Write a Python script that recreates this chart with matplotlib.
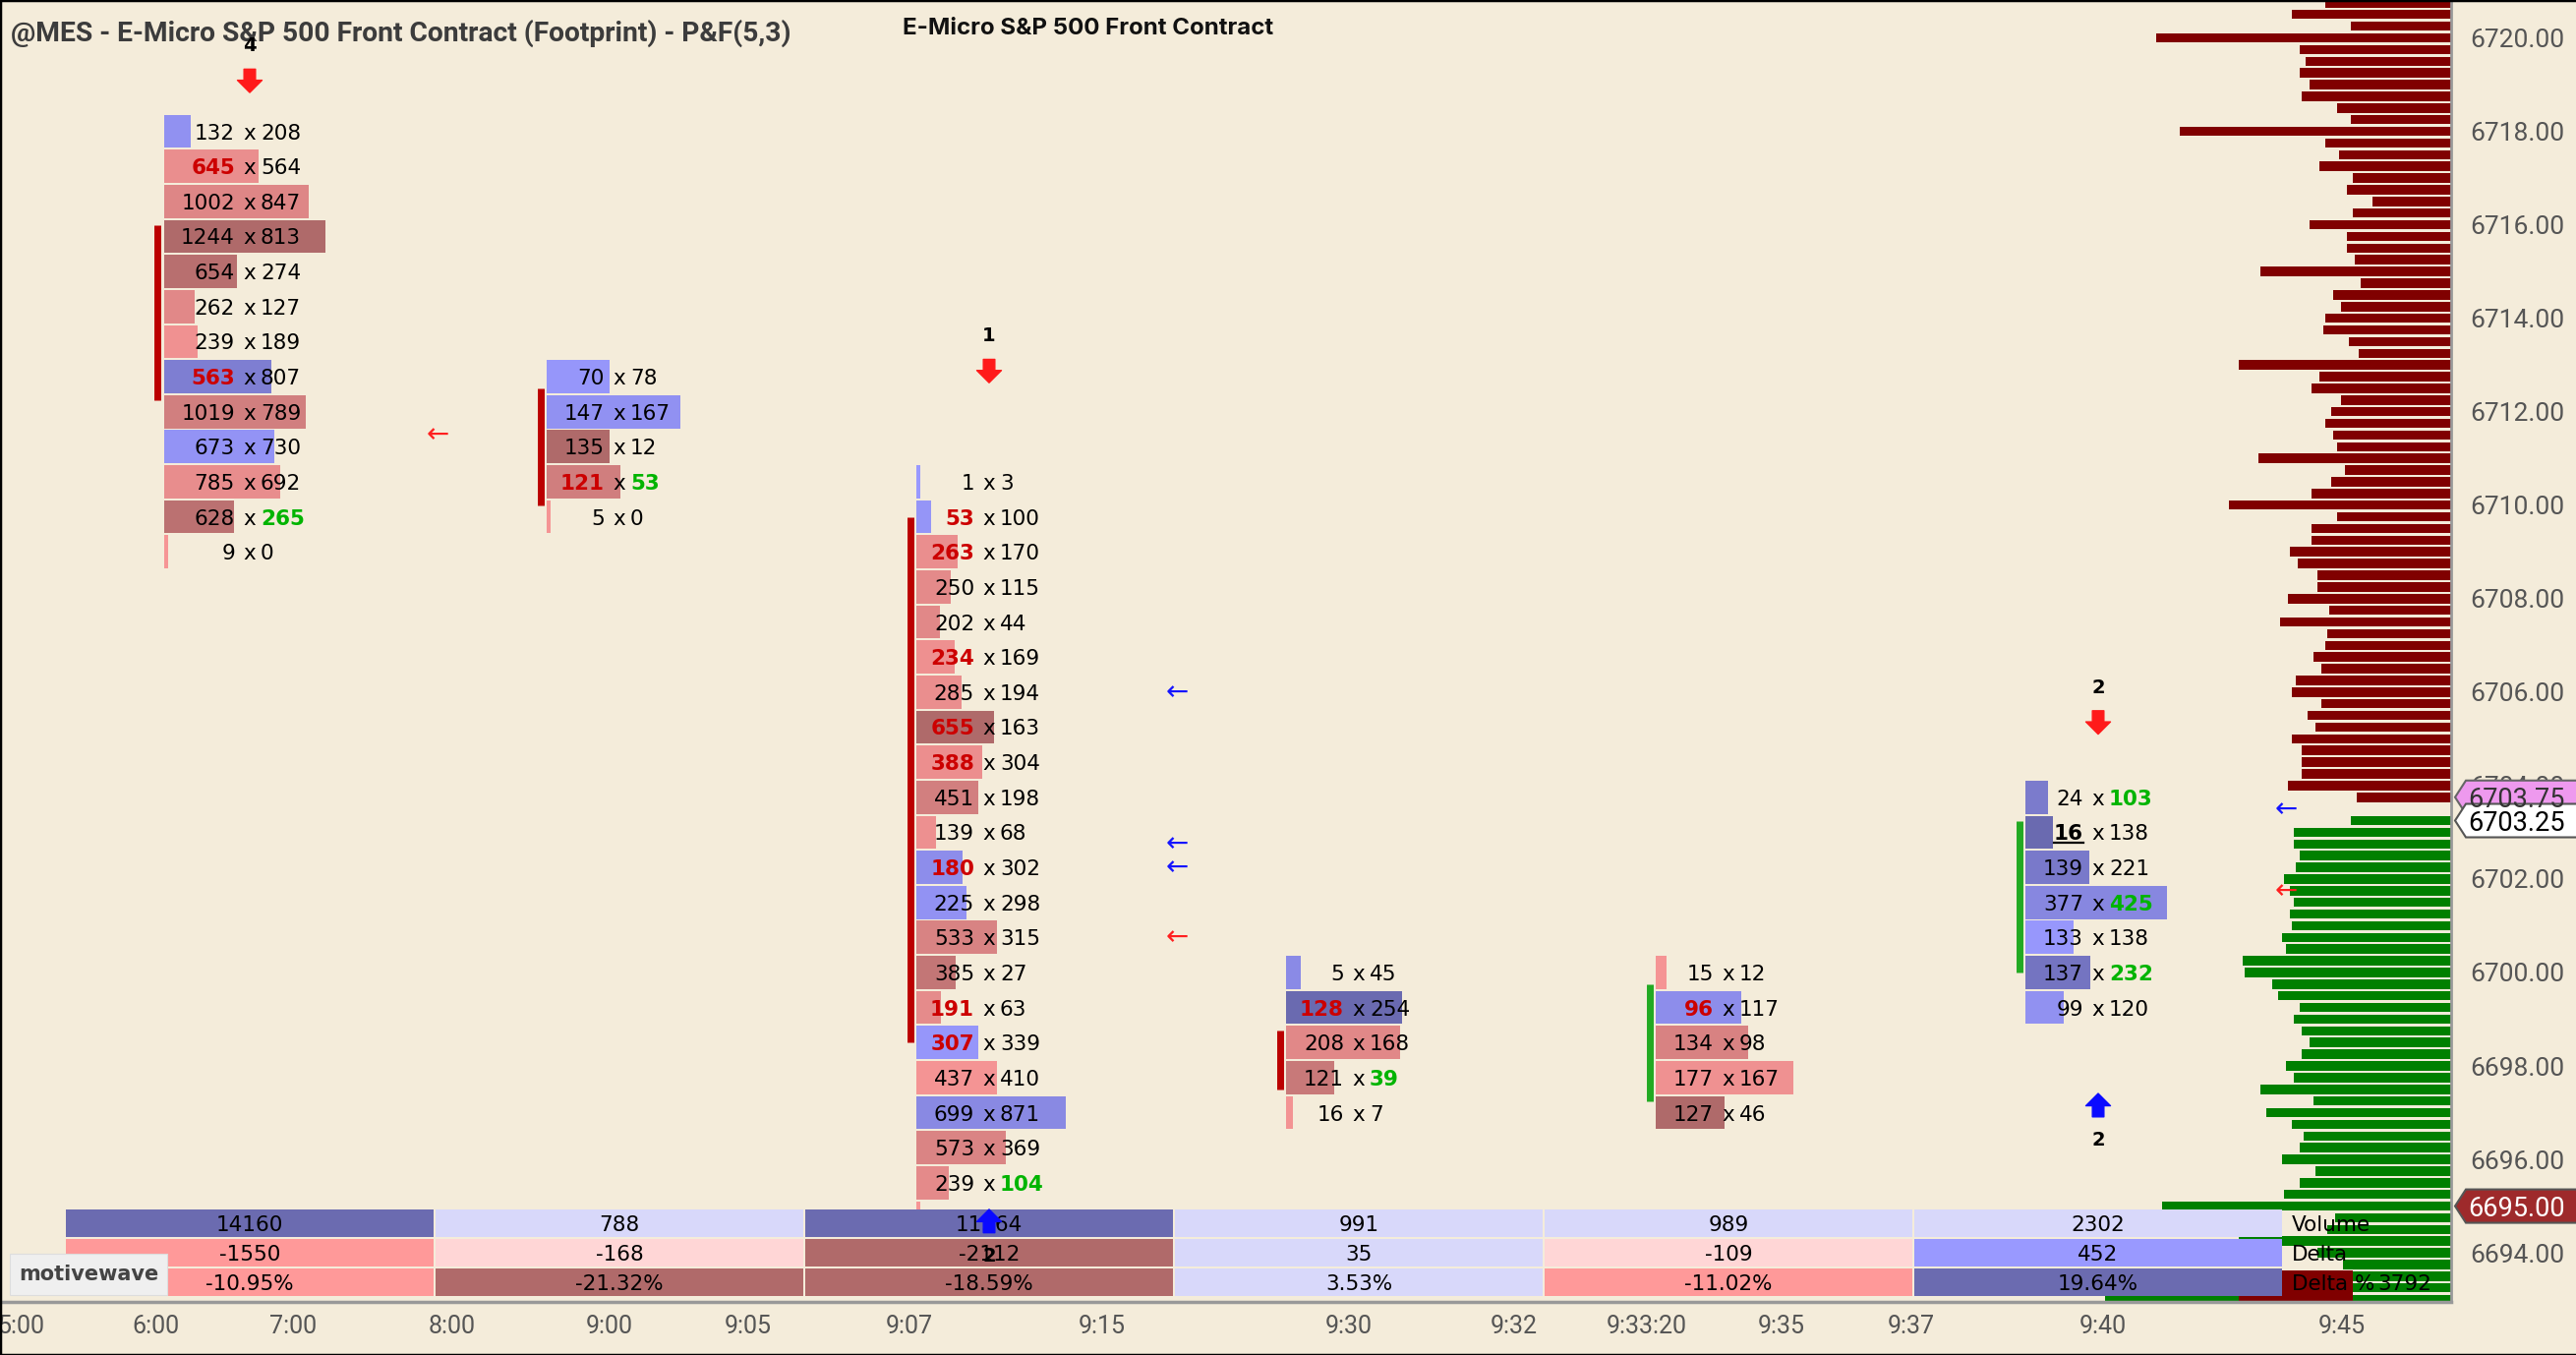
import numpy as np
import matplotlib
matplotlib.use("Agg")
import matplotlib.pyplot as plt
from matplotlib.patches import Rectangle, Polygon
from matplotlib.lines import Line2D
from matplotlib.transforms import blended_transform_factory
from matplotlib.colors import to_rgb

plt.rcParams['font.family'] = ['DejaVu Sans']

# ---------------- data ----------------
# P&F(5,3) footprint columns, rows listed from the top box down (box = 0.75)
col_top = [6718.0, 6712.75, 6710.5, 6700.0, 6700.0, 6703.75]
col_bid = [
    [132, 645, 1002, 1244, 654, 262, 239, 563, 1019, 673, 785, 628, 9],
    [70, 147, 135, 121, 5],
    [1, 53, 263, 250, 202, 234, 285, 655, 388, 451, 139, 180, 225, 533, 385,
     191, 307, 437, 699, 573, 239, 10],
    [5, 128, 208, 121, 16],
    [15, 96, 134, 177, 127],
    [24, 16, 139, 377, 133, 137, 99],
]
col_ask = [
    [208, 564, 847, 813, 274, 127, 189, 807, 789, 730, 692, 265, 0],
    [78, 167, 12, 53, 0],
    [3, 100, 170, 115, 44, 169, 194, 163, 304, 198, 68, 302, 298, 315, 27,
     63, 339, 410, 871, 369, 104, 0],
    [45, 254, 168, 39, 7],
    [12, 117, 98, 167, 46],
    [103, 138, 221, 425, 138, 232, 120],
]
box = 0.75

# value-area lines per column
va_top = [6716.0, 6712.5, 6709.75, 6698.75, 6699.75, 6703.25]
va_bot = [6712.25, 6710.0, 6698.5, 6697.5, 6697.25, 6700.0]
va_up = [False, False, False, False, True, True]

# summary table
tbl_volume = [14160, 788, 11364, 991, 989, 2302]
tbl_delta = [-1550, -168, -2112, 35, -109, 452]
tbl_pct = [-10.95, -21.32, -18.59, 3.53, -11.02, 19.64]

# session volume profile (above / below last trade)
prof_sell = [1380, 1280, 1620, 1020, 3000, 1540, 1480, 1540, 1440, 1520,
             1160, 1020, 2760, 1280, 1140, 1340, 1000, 1060, 800, 1000,
             1440, 1060, 1060, 980, 1940, 920, 1200, 1120, 1280, 1300,
             1040, 940, 2160, 1340, 1420, 1120, 1220, 1280, 1200, 1160,
             1960, 1080, 1220, 1420, 2260, 1160, 1420, 1420, 1640, 1560,
             1360, 1360, 1660, 1240, 1740, 1260, 1280, 1400, 1320, 1580,
             1620, 1320, 1460, 1380, 1620, 1520, 1520, 1520, 1660, 960]
prof_buy = [1020, 1600, 1600, 1540, 1580, 1700, 1640, 1600, 1640, 1620,
            1720, 1680, 2120, 2100, 1820, 1760, 1540, 1600, 1520, 1440,
            1520, 1680, 1600, 1940, 1400, 1880, 1620, 1500, 1540, 1720,
            1380, 1540, 1700, 2940, 1180, 1260, 2160, 1360, 1100, 1000,
            1000, 3520]
prof_sell_top = 6721.0
prof_buy_top = 6703.25
low_prices = [6693.5, 6693.25, 6693.0]
low_buy = [1000, 1000, 1000]
low_sell = [1160, 1160, 1160]

# signal markers
mk_col = [0, 2, 5, 5, 2]
mk_price = [6718.83, 6712.62, 6705.10, 6697.41, 6694.93]
mk_up = [False, False, False, True, True]
mk_label = ['4', '1', '2', '2', '2']

# small arrows
sa_col = [0, 2, 2, 2, 2, 5, 5]
sa_price = [6711.5, 6706.0, 6702.75, 6702.25, 6700.75, 6703.5, 6701.75]
sa_red = [True, False, False, False, True, False, True]

# time axis
time_pos = [-0.62, -0.255, 0.117, 0.548, 0.973, 1.348, 1.785, 2.306,
            2.973, 3.420, 3.779, 4.144, 4.495, 5.013, 5.660]
time_lbl = ['5:00', '6:00', '7:00', '8:00', '9:00', '9:05', '9:07', '9:15',
            '9:30', '9:32', '9:33:20', '9:35', '9:37', '9:40', '9:45']

# ---------------- layout / style ----------------
W_PX, H_PX = 2620, 1378
AX_W, AX_H = 2493, 1324
PX = 376.0          # pixels per column
C0 = 254.0          # pixel x of column 0 centre
Y_TOP, Y_BOT = 6720.81, 6692.95
bar_maxw_px = [164, 136, 152, 118, 140, 144]
IMB = 2.0

BG = '#F4ECDA'
RED_LO, RED_HI = '#F89696', '#AF6A6A'
BLUE_LO, BLUE_HI = '#9999FF', '#6A6AB0'
TXT_RED, TXT_GREEN = '#CC0000', '#00B400'
FS = 15.5


def shade(r, pos):
    lo, hi = (BLUE_LO, BLUE_HI) if pos else (RED_LO, RED_HI)
    r = min(max(r, 0.0), 1.0)
    return tuple(np.array(to_rgb(lo)) * (1 - r) + np.array(to_rgb(hi)) * r)


fig = plt.figure(figsize=(W_PX / 100, H_PX / 100), dpi=100, facecolor=BG)
ax = fig.add_axes([0, 1 - AX_H / H_PX, AX_W / W_PX, AX_H / H_PX])
ax.patch.set_visible(False)
ax.set_xlim(-C0 / PX, (AX_W - C0) / PX)
ax.set_ylim(Y_BOT, Y_TOP)
ppx = (Y_TOP - Y_BOT) / AX_H   # price per pixel

# volume profile (behind everything)
ax2 = ax.twiny()
ax2.set_zorder(-1)
ax2.set_xlim(AX_W * 10, 0)
ax2.set_xticks([])
for s in ax2.spines.values():
    s.set_visible(False)
sell_p = prof_sell_top - 0.25 * np.arange(len(prof_sell))
buy_p = prof_buy_top - 0.25 * np.arange(len(prof_buy))
ax2.barh(sell_p, prof_sell, height=0.2, color='#800000')
ax2.barh(buy_p, prof_buy, height=0.2, color='#008000')
ax2.barh(low_prices, low_sell, left=low_buy, height=0.25, color='#800000')

# footprint columns
for c in range(len(col_top)):
    bids = np.array(col_bid[c])
    asks = np.array(col_ask[c])
    prices = col_top[c] - box * np.arange(len(bids))
    tot = bids + asks
    delta = asks - bids
    dmax = np.abs(delta).max()
    nd = max(len(str(b)) for b in bids)
    left = c - (35 + 13 * nd) / PX
    widths = np.maximum(tot / tot.max() * bar_maxw_px[c] / PX, 4 / PX)
    colors = [shade(abs(d) / dmax, d >= 0) for d in delta]
    ax.barh(prices, widths, left=left, height=0.71, color=colors, zorder=2)
    for r in range(len(bids)):
        p = prices[r]
        bid_imb = r > 0 and bids[r] > 0 and bids[r] >= IMB * asks[r - 1]
        ask_imb = r < len(bids) - 1 and asks[r] > 0 and asks[r] >= IMB * bids[r + 1]
        bkw = dict(color=TXT_RED, fontweight='bold') if bid_imb else dict(color='black')
        akw = dict(color=TXT_GREEN, fontweight='bold') if ask_imb else dict(color='black')
        if c == 5 and r == 1:
            bkw = dict(color='black', fontweight='bold')
        ax.text(c - 15 / PX, p, str(bids[r]), ha='right', va='center_baseline',
                fontsize=FS, zorder=3, **bkw)
        ax.text(c, p, 'x', ha='center', va='center_baseline', fontsize=FS, zorder=3)
        ax.text(c + 11 / PX, p, str(asks[r]), ha='left', va='center_baseline',
                fontsize=FS, zorder=3, **akw)
        if c == 5 and r == 1:
            ax.plot([c - 15 / PX - 30 / PX, c - 15 / PX], [p - 11 * ppx] * 2,
                    color='black', lw=1.6, zorder=3)
    vx = left - 6.5 / PX
    ax.vlines(vx, va_bot[c], va_top[c], color='#22AA22' if va_up[c] else '#BB0000',
              lw=5, zorder=2)

# small arrows
for c, p, red in zip(sa_col, sa_price, sa_red):
    ax.text(c + 0.51, p, '\u2190', color='#FF2020' if red else '#1515FF',
            ha='center', va='center', fontsize=20, zorder=3)

# summary table
tb_tr = blended_transform_factory(ax.transData, ax.transAxes)
row_top = 1 - 1230 / AX_H
row_step = 30 / AX_H
row_h = 28 / AX_H
gap = 2 / PX
blue_lv = ['#D8D8FA', '#9999FF', '#6B6BB0']
red_lv = ['#FFD6D6', '#FF9999', '#B06A6A']
rows = [(tbl_volume, [3000, 10000], lambda v: str(v)),
        (tbl_delta, [300, 2000], lambda v: str(v)),
        (tbl_pct, [5, 15], lambda v: f'{v:.2f}%')]
for k, (vals, thr, fmt) in enumerate(rows):
    y0 = row_top - k * row_step - row_h
    for i, v in enumerate(vals):
        lv = int(abs(v) >= thr[0]) + int(abs(v) >= thr[1])
        fc = blue_lv[lv] if v >= 0 else red_lv[lv]
        ax.add_patch(Rectangle((i - 0.5 + gap / 2, y0), 1 - gap, row_h, transform=tb_tr,
                               fc=fc, ec='none', zorder=4))
        ax.text(i, y0 + row_h / 2, fmt(v), transform=tb_tr, ha='center',
                va='center_baseline', fontsize=FS, zorder=5)
lab_x = (2331 - C0) / PX
for k, lab in enumerate(['Volume', 'Delta', 'Delta %']):
    ax.text(lab_x, row_top - k * row_step - row_h / 2, lab, transform=tb_tr,
            ha='left', va='center_baseline', fontsize=FS, zorder=5)
ax.text((2418 - C0) / PX, row_top - 2 * row_step - row_h / 2, '3792', transform=tb_tr,
        ha='left', va='center_baseline', fontsize=FS, zorder=5)

# signal markers
for c, p, up, lab in zip(mk_col, mk_price, mk_up, mk_label):
    tail = p - 0.5 if up else p + 0.5
    col = '#0A0AFF' if up else '#FF1A1A'
    ax.annotate('', xy=(c, p), xytext=(c, tail), zorder=6,
                arrowprops=dict(arrowstyle='simple,head_width=0.9,head_length=0.45,tail_width=0.42',
                                color=col, shrinkA=0, shrinkB=0, mutation_scale=20))
    ax.text(c, p - 1.0 if up else p + 1.0, lab, ha='center', va='center',
            fontsize=14, fontweight='bold', zorder=6)

# watermark
ax.add_patch(Rectangle((10 / AX_W, 7 / AX_H), 160 / AX_W, 42 / AX_H, transform=ax.transAxes,
                       fc='#EFEFEF', ec='#DDDDDD', lw=0.8, zorder=6))
ax.text(90 / AX_W, 28 / AX_H, 'motivewave', transform=ax.transAxes, ha='center',
        va='center', fontsize=15, fontweight='bold', color='#444444', zorder=7)

# axes, ticks
for s in ['top', 'left']:
    ax.spines[s].set_visible(False)
ax.spines['right'].set_color('#999999')
ax.spines['right'].set_linewidth(2)
ax.spines['bottom'].set_color('#999999')
ax.spines['bottom'].set_linewidth(2.5)
ax.yaxis.tick_right()
yt = np.arange(6694, 6721, 2)
ax.set_yticks(yt)
ax.set_yticklabels([f'{v:.2f}' for v in yt], family='Roboto', fontsize=19, color='#555555')
ax.set_xticks(time_pos)
ax.set_xticklabels(time_lbl, family='Roboto', fontsize=18, color='#555555')
ax.tick_params(axis='y', length=0, pad=13.7)
ax.tick_params(axis='x', length=0, pad=9)

# price tags
tr = blended_transform_factory(ax.transAxes, ax.transData)
h = 17 * ppx
for price, fc, ec, tc in [(6703.75, '#EE99EE', '#666666', '#333333'),
                          (6703.25, '#FFFFFF', '#555555', '#000000'),
                          (6695.0, '#9E2A2B', '#555555', '#FFFFFF')]:
    xt, xb, xr = 2497 / AX_W, 2508 / AX_W, 2640 / AX_W
    ax.add_patch(Polygon([(xt, price), (xb, price + h), (xr, price + h),
                          (xr, price - h), (xb, price - h)], closed=True, transform=tr,
                         fc=fc, ec=ec, lw=1.5, clip_on=False, zorder=7))
    ax.text(2510 / AX_W, price, f'{price:.2f}', transform=tr, ha='left',
            va='center_baseline', fontsize=19.5, family='Roboto', color=tc,
            zorder=8, clip_on=False)

# titles
fig.text(11 / W_PX, 1 - 34 / H_PX, '@MES - E-Micro S&P 500 Front Contract (Footprint) - P&F(5,3)',
         family='Roboto', fontweight='bold', fontsize=20.3, color='#3C3C3C', va='center',
         zorder=-0.5)
fig.text(918 / W_PX, 1 - 29 / H_PX, 'E-Micro S&P 500 Front Contract', family='Inter',
         fontweight='bold', fontsize=17.3, color='#111111', va='center')

# outer frame
for xs, ys in [([0, 1], [1, 1]), ([0, 1], [0, 0]), ([0, 0], [0, 1])]:
    fig.add_artist(Line2D(xs, ys, transform=fig.transFigure, color='black', lw=2.5))

fig.savefig('out.png', dpi=100, facecolor=BG)
